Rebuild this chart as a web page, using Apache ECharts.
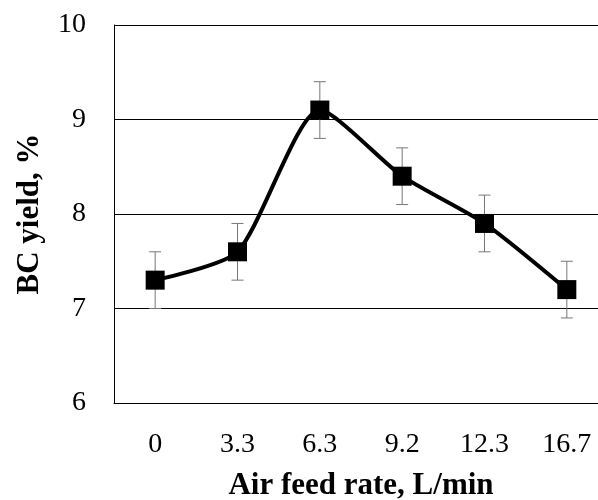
<!DOCTYPE html>
<html>
<head>
<meta charset="utf-8">
<script src="https://cdn.jsdelivr.net/npm/echarts@6/dist/echarts.min.js"></script>
<style>html,body{margin:0;padding:0;background:#fff;}#c{width:598px;height:500px;}</style>
</head>
<body>
<div id="c"></div>
<script>
var categories = ['0', '3.3', '6.3', '9.2', '12.3', '16.7'];
var yieldValues = [7.3, 7.6, 9.1, 8.4, 7.9, 7.2];
var yieldErrors = [0.3, 0.3, 0.3, 0.3, 0.3, 0.3];
var yTicks = [6, 7, 8, 9, 10];

var FONT = '"Liberation Serif", "Times New Roman", serif';
var chart = echarts.init(document.getElementById('c'));
var errData = categories.map(function (c, i) {
  return [i, yieldValues[i] - yieldErrors[i], yieldValues[i] + yieldErrors[i]];
});
chart.setOption({
  animation: false,
  backgroundColor: '#fff',
  grid: { left: 114, top: 25, bottom: 97, width: 494, containLabel: false, outerBoundsMode: 'none' },
  xAxis: {
    type: 'category',
    data: categories,
    boundaryGap: true,
    axisTick: { show: false },
    axisLine: { show: true, lineStyle: { color: '#000', width: 1 } },
    axisLabel: { color: '#000', fontFamily: FONT, fontSize: 28, margin: 28 },
    name: 'Air feed rate, L/min',
    nameLocation: 'middle',
    nameGap: 67,
    nameTextStyle: { color: '#000', fontFamily: FONT, fontSize: 31, fontWeight: 'bold' }
  },
  yAxis: {
    type: 'value',
    min: yTicks[0],
    max: yTicks[yTicks.length - 1],
    interval: 1,
    axisTick: { show: false },
    axisLine: { show: true, lineStyle: { color: '#000', width: 1 } },
    axisLabel: { color: '#000', fontFamily: FONT, fontSize: 28, margin: 28 },
    splitLine: { show: true, lineStyle: { color: '#000', width: 1 } },
    name: 'BC yield, %',
    nameLocation: 'middle',
    nameGap: 69,
    nameTextStyle: { color: '#000', fontFamily: FONT, fontSize: 31, fontWeight: 'bold' }
  },
  series: [
    {
      type: 'custom',
      data: errData,
      z: 1,
      renderItem: function (params, api) {
        var x = api.value(0);
        var lo = api.coord([x, api.value(1)]);
        var hi = api.coord([x, api.value(2)]);
        var cap = 6;
        var st = { stroke: '#777', lineWidth: 1 };
        return {
          type: 'group',
          children: [
            { type: 'line', shape: { x1: lo[0], y1: lo[1], x2: hi[0], y2: hi[1] }, style: st },
            { type: 'line', shape: { x1: hi[0] - cap, y1: hi[1], x2: hi[0] + cap, y2: hi[1] }, style: st },
            { type: 'line', shape: { x1: lo[0] - cap, y1: lo[1], x2: lo[0] + cap, y2: lo[1] }, style: st }
          ]
        };
      }
    },
    {
      type: 'line',
      data: yieldValues,
      z: 3,
      smooth: 0.22,
      symbol: 'rect',
      symbolSize: 19,
      lineStyle: { color: '#000', width: 4 },
      itemStyle: { color: '#000' }
    }
  ]
});
</script>
</body>
</html>
